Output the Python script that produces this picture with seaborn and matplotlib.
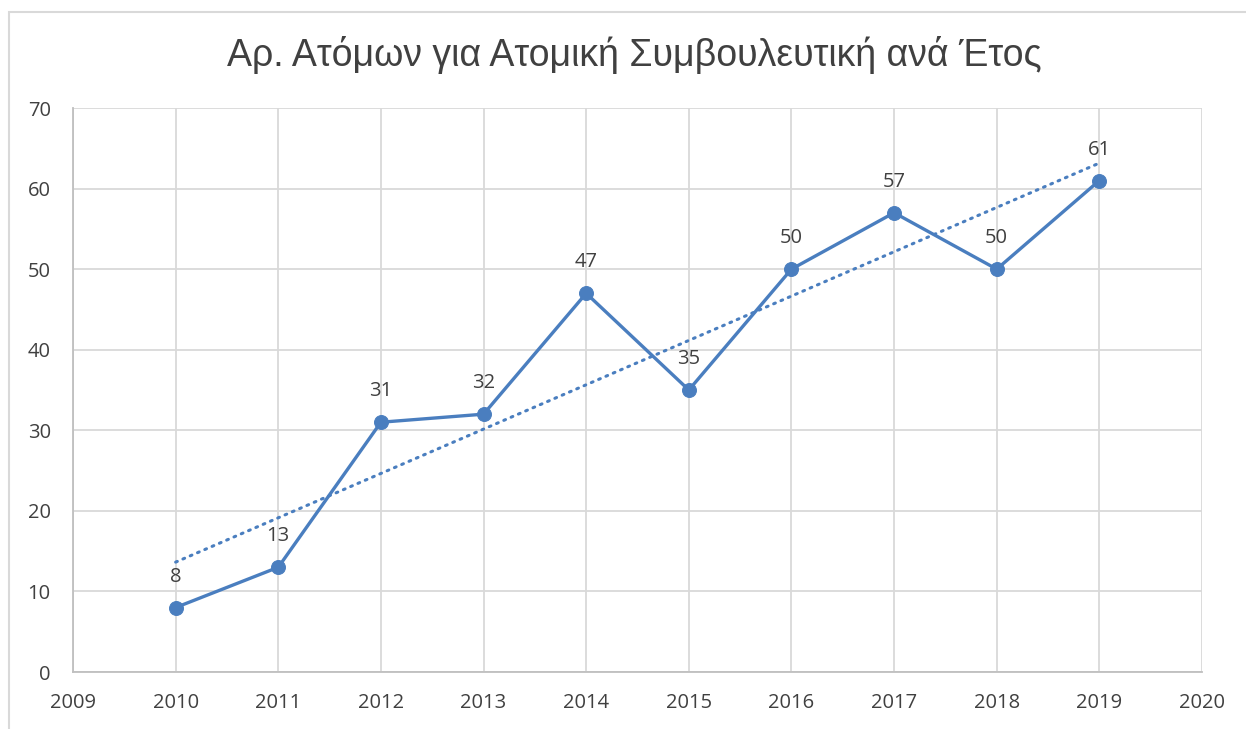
import matplotlib
matplotlib.use("Agg")
import matplotlib.pyplot as plt
import seaborn as sns
import pandas as pd
from matplotlib.patches import Rectangle

years = [2010, 2011, 2012, 2013, 2014, 2015, 2016, 2017, 2018, 2019]
people = [8, 13, 31, 32, 47, 35, 50, 57, 50, 61]
title = "Αρ. Ατόμων για Ατομική Συμβουλευτική ανά Έτος"
x_ticks = [2009, 2010, 2011, 2012, 2013, 2014, 2015, 2016, 2017, 2018, 2019, 2020]
y_ticks = [0, 10, 20, 30, 40, 50, 60, 70]

df = pd.DataFrame({"year": years, "people": people})

sns.set_theme(style="white")
plt.rcParams['font.family'] = ['Open Sans', 'DejaVu Sans']

blue = "#4A7EBF"
grid_c = "#D9D9D9"
text_c = "#404040"

fig = plt.figure(figsize=(12.46, 7.29), dpi=100)
fig.patches.append(Rectangle((9/1246, -0.1), 1.2, 1 - 12/729 + 0.1, transform=fig.transFigure,
                             fill=False, edgecolor="#D9D9D9", linewidth=1.5, zorder=0))
ax = fig.add_axes([73/1246, 1 - 672/729, (1202 - 73)/1246, (672 - 108)/729])

ax.set_xlim(2009, 2020)
ax.set_ylim(0, 70)
ax.set_xticks(x_ticks)
ax.set_yticks(y_ticks)
ax.grid(True, color=grid_c, linewidth=1.3)
ax.set_axisbelow(True)
for s in ["top", "right"]:
    ax.spines[s].set_visible(False)
for s in ["left", "bottom"]:
    ax.spines[s].set_color("#BFBFBF")
    ax.spines[s].set_linewidth(1.3)

sns.regplot(data=df, x="year", y="people", scatter=False, ci=None, ax=ax,
            line_kws=dict(color=blue, linewidth=2.2, linestyle=(0, (0.6, 2.0)),
                          dash_capstyle="round", zorder=2))
sns.lineplot(data=df, x="year", y="people", ax=ax, color=blue, linewidth=2.4,
             marker="o", markersize=10, markeredgecolor=blue, zorder=3)

for x, y in zip(years, people):
    ax.annotate(str(y), (x, y), xytext=(0, 15), textcoords="offset points",
                ha="center", va="bottom", fontsize=14.5, color=text_c)

ax.set_xlabel("")
ax.set_ylabel("")
ax.tick_params(axis="both", length=0, labelsize=14.5, labelcolor=text_c)
ax.tick_params(axis="x", pad=15)
ax.tick_params(axis="y", pad=16)

fig.text(634/1246, 1 - 55/729, title, ha="center", va="center", fontsize=27,
         color=text_c, family=['Liberation Sans', 'DejaVu Sans'])

fig.savefig("out.png", dpi=100, facecolor="white")
